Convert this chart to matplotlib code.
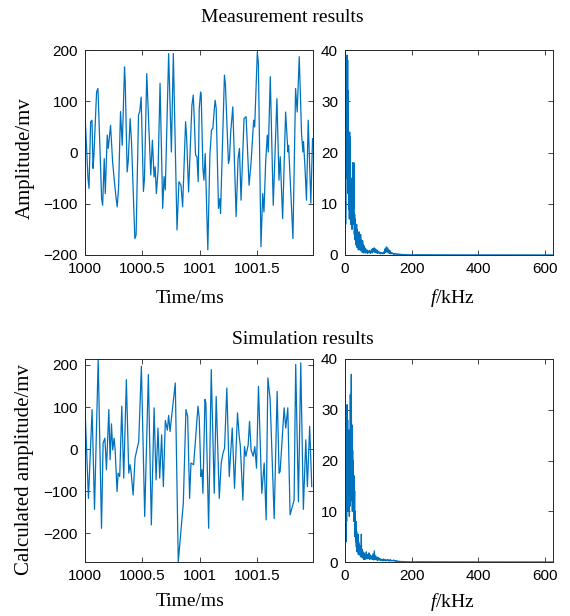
import matplotlib
matplotlib.use('Agg')
import matplotlib.pyplot as plt
import numpy as np

# measured signal (time offset from 1000 ms, amplitude in mV)
t_meas = [0.000, 0.026, 0.035, 0.049, 0.061, 0.070, 0.078, 0.101, 0.113, 0.145,
          0.154, 0.168, 0.177, 0.194, 0.203, 0.223, 0.241, 0.258, 0.272, 0.281,
          0.293, 0.310, 0.325, 0.345, 0.351, 0.368, 0.377, 0.394, 0.406, 0.435,
          0.446, 0.467, 0.478, 0.490, 0.510, 0.519, 0.539, 0.574, 0.588, 0.603,
          0.612, 0.623, 0.638, 0.655, 0.678, 0.690, 0.701, 0.730, 0.754, 0.771,
          0.803, 0.820, 0.838, 0.852, 0.878, 0.887, 0.904, 0.933, 0.945, 0.954,
          0.965, 0.977, 0.988, 0.997, 1.009, 1.014, 1.029, 1.038, 1.049, 1.072,
          1.090, 1.104, 1.116, 1.128, 1.136, 1.145, 1.165, 1.177, 1.183, 1.217,
          1.226, 1.252, 1.261, 1.272, 1.290, 1.319, 1.336, 1.348, 1.362, 1.388,
          1.406, 1.432, 1.449, 1.472, 1.481, 1.504, 1.513, 1.536, 1.551, 1.562,
          1.577, 1.591, 1.600, 1.617, 1.643, 1.675, 1.693, 1.704, 1.725, 1.751,
          1.771, 1.777, 1.815, 1.838, 1.852, 1.870, 1.890, 1.902, 1.907, 1.919,
          1.933, 1.948, 1.971, 1.986]
amp_meas = [75, -50, -70, 60, 63, -31, -5, 118, 125, -90,
            -103, -12, -80, 34, 8, 53, -18, -60, -90, -106,
            -70, 80, 14, 167, 138, -38, -18, 66, 21, -168,
            -161, 73, 80, 108, -76, -51, 154, -44, 24, -48,
            -28, -80, -34, 135, -109, -47, -73, 193, 1, 193,
            -151, -57, -64, -106, 60, 31, -77, 92, 112, 63,
            -5, -8, -57, 86, 118, 112, -31, -54, -2, -190,
            -5, 44, 47, 83, 102, 86, -109, -90, -119, 151,
            131, -21, -12, 40, 89, -125, -12, 8, -93, 66,
            70, -64, -21, 63, 50, 196, 176, -184, -80, -116,
            -18, 34, 1, 148, -103, 105, -54, -8, -129, 79,
            1, 14, -168, 125, 79, 187, 37, 1, 21, -25,
            -93, 63, -99, 27]

# simulated signal
t_sim = [0.000, 0.030, 0.062, 0.083, 0.115, 0.144, 0.158, 0.173, 0.179, 0.187,
         0.208, 0.219, 0.231, 0.242, 0.254, 0.263, 0.280, 0.289, 0.303, 0.321,
         0.338, 0.361, 0.382, 0.393, 0.402, 0.420, 0.437, 0.452, 0.469, 0.492,
         0.521, 0.553, 0.579, 0.603, 0.620, 0.637, 0.652, 0.669, 0.684, 0.701,
         0.719, 0.730, 0.742, 0.788, 0.814, 0.858, 0.881, 0.896, 0.913, 0.925,
         0.948, 0.960, 0.986, 0.997, 1.012, 1.021, 1.029, 1.047, 1.055, 1.079,
         1.102, 1.128, 1.145, 1.172, 1.189, 1.204, 1.218, 1.238, 1.259, 1.285,
         1.305, 1.331, 1.346, 1.355, 1.378, 1.392, 1.404, 1.424, 1.436, 1.450,
         1.468, 1.482, 1.497, 1.514, 1.543, 1.564, 1.581, 1.596, 1.616, 1.651,
         1.677, 1.694, 1.703, 1.738, 1.752, 1.770, 1.790, 1.825, 1.839, 1.863,
         1.883, 1.906, 1.927, 1.941, 1.961, 1.979]
amp_sim = [98, -117, 94, -143, 213, -188, 14, 26, -2, -49,
           94, -25, 60, -2, 26, -2, -101, -57, -65, 102,
           -69, 165, -57, -37, -53, -109, -21, -2, 18, 197,
           -160, 177, -180, 98, -73, 50, -69, 34, -89, 68,
           45, 80, 42, 157, -268, -129, 94, 78, -117, -33,
           -37, 6, 102, 74, -65, -49, -105, 118, 110, -188,
           189, -105, 125, -117, -33, -10, 2, 145, -65, 50,
           -93, 86, 30, 10, -121, 6, -17, 10, 66, -2,
           -17, 6, -45, 149, -105, -33, -168, 169, 118, -165,
           137, -57, -53, 98, 50, 98, -156, -121, 201, -125,
           205, -143, 22, -89, 54, -89]

# spectra: 1 kHz bins to 60 kHz, 2 kHz bins to 200 kHz, 25 kHz bins to 625 kHz
freq = np.concatenate([np.arange(0, 61), np.arange(62, 201, 2), np.arange(225, 626, 25)])
spec_meas = [3, 13, 6, 10, 37, 15, 39, 22, 38, 12, 32, 9, 20, 7, 24, 11, 23, 6, 15, 8,
             12, 5, 10, 18, 6, 17, 9, 18, 4, 8, 3, 7, 2, 5, 3, 6, 1.5, 5, 2, 4.5,
             1, 3.5, 2, 4.5, 1, 3, 1.5, 4, 0.8, 3, 1, 2.5, 0.5, 2.8, 0.8, 2, 0.4, 1.8, 0.6, 1.5,
             0.4,
             1.2, 0.4, 1.0, 0.3, 0.8, 0.5, 0.9, 0.3, 0.6,
             1.1, 0.4, 1.3, 0.6, 1.4, 0.5, 1.2, 0.4, 1.0, 0.3, 0.7,
             0.4, 0.6, 0.2, 0.5, 0.3, 0.4, 0.2, 0.6, 0.3,
             1.2, 0.5, 1.6, 0.6, 1.4, 0.4, 1.0, 0.3, 0.8, 0.2, 0.5,
             0.4, 0.2, 0.3, 0.1, 0.3, 0.2, 0.25, 0.1, 0.2, 0.15,
             0.2, 0.1, 0.15, 0.1, 0.12, 0.08, 0.1, 0.06, 0.1, 0.05,
             0.08, 0.05, 0.07, 0.04, 0.06, 0.04, 0.05, 0.03, 0.05, 0.03,
             0.05, 0.04, 0.04, 0.03, 0.03, 0.03, 0.02, 0.02, 0.02, 0.02,
             0.02, 0.02, 0.02, 0.01, 0.01, 0.01, 0.01]
spec_sim = [3, 6, 10, 4, 12, 8, 31, 10, 28, 12, 25, 10, 26, 9, 22, 11, 33, 12, 30, 37,
            14, 27, 10, 22, 12, 20, 8, 17, 9, 14, 5, 10, 4, 8, 3, 6, 2, 5, 2.5, 5.5,
            1.5, 4, 2, 3.5, 1.5, 3, 1.2, 3.2, 1, 5.5, 1.2, 2.5, 0.8, 2.2, 1, 1.8, 0.5, 1.8, 0.7, 1.5,
            0.5,
            0.8, 2.0, 0.6, 1.5, 0.7, 1.8, 0.5, 1.4, 0.6, 1.2,
            0.5, 1.6, 0.4, 2.2, 0.5, 1.2, 0.4, 1.0, 0.3, 0.9,
            0.4, 0.7, 0.3, 0.6, 0.3, 0.5, 0.2, 0.6, 0.3, 0.5,
            0.2, 0.4, 0.3, 0.5, 0.2, 0.4, 0.2, 0.5, 0.2, 0.3,
            0.3, 0.2, 0.4, 0.2, 0.3, 0.15, 0.25, 0.1, 0.2, 0.1,
            0.15, 0.1, 0.12, 0.08, 0.1, 0.06, 0.1, 0.05, 0.08, 0.05,
            0.07, 0.04, 0.06, 0.04, 0.05, 0.03, 0.05, 0.03, 0.04, 0.03,
            0.05, 0.04, 0.04, 0.03, 0.03, 0.03, 0.02, 0.02, 0.02, 0.02,
            0.02, 0.02, 0.02, 0.01, 0.01, 0.01, 0.01]

time_ticks = [1000, 1000.5, 1001, 1001.5]
time_labels = ['1000', '1000.5', '1001', '1001.5']
freq_ticks = [0, 200, 400, 600]
spec_ticks = [0, 10, 20, 30, 40]

plt.rcParams['font.family'] = 'Liberation Sans'
plt.rcParams['mathtext.fontset'] = 'custom'
plt.rcParams['mathtext.it'] = 'Liberation Serif:italic'
plt.rcParams['mathtext.rm'] = 'Liberation Serif'

W, H = 570, 616
LINE = '#0072BD'
SERIF = 'Liberation Serif'

fig = plt.figure(figsize=(W / 100, H / 100), dpi=100)


def box(x0, y0, x1, y1):
    return [x0 / W, 1 - y1 / H, (x1 - x0) / W, (y1 - y0) / H]


def style(ax):
    ax.tick_params(direction='in', top=True, right=True, labelsize=11,
                   length=3.5, width=0.6, colors='#262626', labelcolor='black', pad=5)
    for s in ax.spines.values():
        s.set_linewidth(0.7)
        s.set_color('#262626')


ax1 = fig.add_axes(box(85, 50, 313, 255))
ax2 = fig.add_axes(box(345, 50, 553, 255))
ax3 = fig.add_axes(box(85, 359, 313, 562))
ax4 = fig.add_axes(box(345, 359, 553, 562))

ax1.plot(1000 + np.array(t_meas), amp_meas, color=LINE, lw=0.9)
ax1.set_ylim(-200, 200)
ax1.set_yticks([-200, -100, 0, 100, 200])

ax3.plot(1000 + np.array(t_sim), amp_sim, color=LINE, lw=0.9)
ax3.set_ylim(min(amp_sim), max(amp_sim) + 1)
ax3.set_yticks([-200, -100, 0, 100, 200])

for ax in (ax1, ax3):
    ax.set_xlim(1000, 1001.99)
    ax.set_xticks(time_ticks)
    ax.set_xticklabels(time_labels)
    style(ax)

ax2.plot(freq, spec_meas, color=LINE, lw=0.9)
ax4.plot(freq, spec_sim, color=LINE, lw=0.9)
for ax in (ax2, ax4):
    ax.set_xlim(0, 625)
    ax.set_ylim(0, 40)
    ax.set_xticks(freq_ticks)
    ax.set_yticks(spec_ticks)
    style(ax)


def ftext(x, y, s, size=14, **kw):
    fig.text(x / W, 1 - y / H, s, ha='center', va='center', fontsize=size, family=SERIF, **kw)


ftext(282, 18, 'Measurement results')
ftext(303, 340, 'Simulation results')
ftext(25, 158, 'Amplitude/mv', size=15, rotation=90)
ftext(25, 470, 'Calculated amplitude/mv', size=15, rotation=90)
ftext(190, 298, 'Time/ms')
ftext(452, 298, r'$\mathit{f}$/kHz')
ftext(190, 602, 'Time/ms')
ftext(452, 602, r'$\mathit{f}$/kHz')

fig.savefig('out.png', dpi=100)
